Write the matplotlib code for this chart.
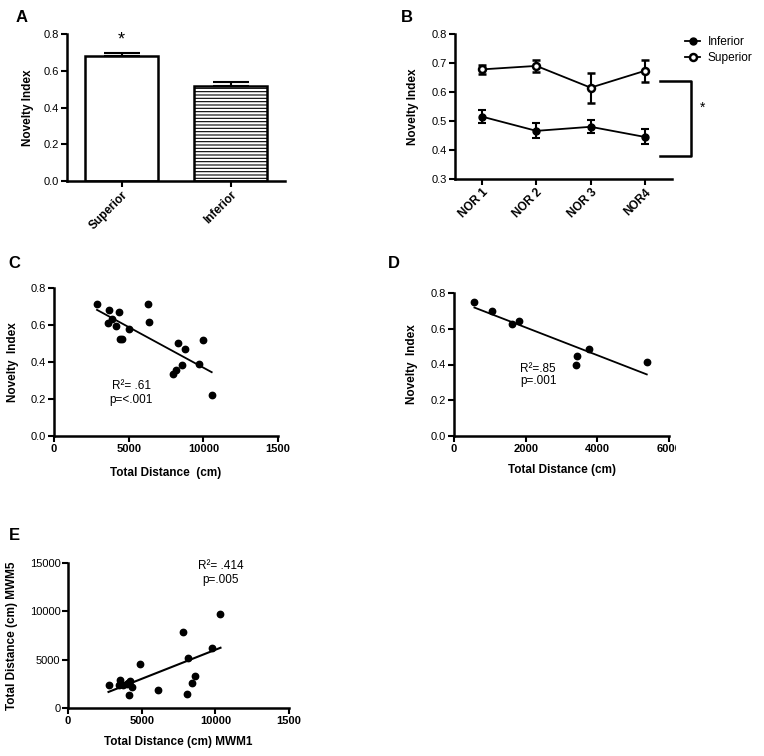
import numpy as np
import matplotlib
matplotlib.use("Agg")
import matplotlib.pyplot as plt
from matplotlib.transforms import Bbox, TransformedBbox

plt.rcParams['font.family'] = ['Liberation Sans', 'DejaVu Sans']
plt.rcParams['hatch.color'] = '#8a8a8a'
plt.rcParams['hatch.linewidth'] = 0.8

# ---- data ----
# A: bar chart
bar_groups = ['Superior', 'Inferior']
bar_means = [0.678, 0.516]
bar_err = [0.016, 0.023]

# B: NOR sessions
nor_labels = ['NOR 1', 'NOR 2', 'NOR 3', 'NOR4']
sup_means = [0.678, 0.690, 0.615, 0.673]
sup_err = [0.015, 0.022, 0.052, 0.038]
inf_means = [0.515, 0.466, 0.480, 0.445]
inf_err = [0.022, 0.026, 0.023, 0.026]

# C: novelty index vs total distance
c_dist = [2880, 3680, 3620, 3910, 4330, 4170, 4400, 4530, 5020, 6270,
          6380, 8300, 7970, 8190, 8570, 8790, 9960, 9690, 10560]
c_index = [0.713, 0.681, 0.610, 0.632, 0.670, 0.597, 0.523, 0.525, 0.577, 0.715,
           0.617, 0.505, 0.333, 0.355, 0.382, 0.471, 0.518, 0.389, 0.224]

# D: novelty index vs total distance
d_dist = [570, 1050, 1610, 1810, 3400, 3430, 3780, 5380]
d_index = [0.749, 0.701, 0.629, 0.641, 0.397, 0.448, 0.487, 0.416]

# E: MWM1 vs MWM5 distance
e_mwm1 = [2750, 3490, 3540, 3760, 3990, 4060, 4220, 4370, 4170, 4890,
          6130, 7780, 8120, 8050, 8390, 8610, 9760, 10350]
e_mwm5 = [2350, 2350, 2940, 2350, 2520, 2600, 2760, 2170, 1390, 4520,
          1830, 7830, 5210, 1490, 2630, 3280, 6250, 9690]

W, H = 764, 756
fig = plt.figure(figsize=(W / 100, H / 100), dpi=100)


def make_ax(l, t, r, b):
    ax = fig.add_axes([l / W, 1 - b / H, (r - l) / W, (b - t) / H])
    for s in ['top', 'right']:
        ax.spines[s].set_visible(False)
    for s in ['left', 'bottom']:
        ax.spines[s].set_linewidth(1.8)
    ax.tick_params(direction='out', length=4, width=1.5, labelsize=8, pad=1.5)
    ax.box = (l, t, r, b)
    return ax


def place_labels(ax, ylab_x, xlab_y=None):
    # centre of the label in pixels -> axes coords of its anchored edge
    l, t, r, b = ax.box
    ax.yaxis.set_label_coords((ylab_x + 6 - l) / (r - l), 0.5)
    if xlab_y is not None:
        ax.xaxis.set_label_coords(0.5, (b - xlab_y + 6) / (b - t))


def ax_text(ax, x, y, s, **kw):
    l, t, r, b = ax.box
    ax.text((x - l) / (r - l), (b - y) / (b - t), s, transform=ax.transAxes,
            fontsize=8.5, va='center', **kw)


bold = dict(fontsize=8.5, fontweight='bold')

# ---- A ----
axA = make_ax(67, 34, 285, 181)
xa = np.arange(len(bar_groups))
axA.bar(xa[0], bar_means[0], width=0.67, color='white', edgecolor='black', linewidth=1.8)
axA.bar(xa[1], bar_means[1], width=0.67, color='white', edgecolor='black', linewidth=1.8,
        hatch='-----')
axA.errorbar(xa, bar_means, yerr=[np.zeros(2), bar_err], fmt='none', ecolor='black',
             elinewidth=1.5, capsize=13, capthick=1.5)
axA.set_xlim(-0.5, 1.5)
axA.set_ylim(0, 0.8)
axA.set_yticks([0, 0.2, 0.4, 0.6, 0.8])
axA.set_yticklabels(['0.0', '0.2', '0.4', '0.6', '0.8'])
axA.set_xticks(xa)
axA.set_xticklabels(bar_groups, rotation=45, ha='right', rotation_mode='anchor', **bold)
axA.set_ylabel('Novelty Index', **bold)
place_labels(axA, 28)
axA.text(xa[0], 0.77, '*', ha='center', va='center', fontsize=13)

# ---- B ----
axB = make_ax(455, 34, 672, 179)
xb = np.arange(len(nor_labels))
axB.errorbar(xb, inf_means, yerr=inf_err, fmt='-o', color='black', ms=5, lw=1.3,
             elinewidth=1.5, capsize=3, capthick=1.5, label='Inferior')
axB.errorbar(xb, sup_means, yerr=sup_err, fmt='-o', color='black', mfc='white', mew=1.8,
             ms=5, lw=1.3, elinewidth=1.5, capsize=3, capthick=1.5, label='Superior')
axB.set_xlim(-0.5, 3.5)
axB.set_ylim(0.3, 0.8)
axB.set_yticks([0.3, 0.4, 0.5, 0.6, 0.7, 0.8])
axB.set_yticklabels(['0.3', '0.4', '0.5', '0.6', '0.7', '0.8'])
axB.set_xticks(xb)
axB.set_xticklabels(nor_labels, rotation=45, ha='right', rotation_mode='anchor', **bold)
axB.set_ylabel('Novelty Index', **bold)
place_labels(axB, 413)
handles, labels = axB.get_legend_handles_labels()
leg = axB.legend([h[0] for h in handles], labels, loc='upper left',
                 bbox_to_anchor=((674 - 455) / 217, 1.06), frameon=False, fontsize=8.6,
                 handlelength=1.3, handletextpad=0.6, labelspacing=0.35)
axB.plot([3.28, 3.85, 3.85, 3.28], [0.638, 0.638, 0.379, 0.379], color='black', lw=1.8,
         clip_on=False)
axB.text(4.07, 0.545, '*', ha='center', va='center', fontsize=10)

# ---- C ----
axC = make_ax(54, 288, 278, 436)
axC.plot(c_dist, c_index, 'o', color='black', ms=4.6)
kc = np.polyfit(c_dist, c_index, 1)
xc = np.array([min(c_dist), max(c_dist)])
axC.plot(xc, np.polyval(kc, xc), color='black', lw=1.3)
axC.set_xlim(0, 15000)
axC.set_ylim(0, 0.8)
axC.set_xticks([0, 5000, 10000, 15000])
axC.set_xticklabels(['0', '5000', '10000', '1500'], fontweight='bold')
axC.set_yticks([0, 0.2, 0.4, 0.6, 0.8])
axC.set_yticklabels(['0.0', '0.2', '0.4', '0.6', '0.8'])
axC.set_ylabel('Novelty  Index', **bold)
axC.set_xlabel('Total Distance  (cm)', **bold)
place_labels(axC, 13, 473)
ax_text(axC, 131, 386, 'R\u00b2= .61', ha='center')
ax_text(axC, 131, 400, 'p=<.001', ha='center')

# ---- D ----
axD = make_ax(454, 293, 669, 436)
axD.plot(d_dist, d_index, 'o', color='black', ms=4.6)
kd = np.polyfit(d_dist, d_index, 1)
xd = np.array([min(d_dist), max(d_dist)])
axD.plot(xd, np.polyval(kd, xd), color='black', lw=1.3)
axD.set_xlim(0, 6000)
axD.set_ylim(0, 0.8)
axD.set_xticks([0, 2000, 4000, 6000])
dl = axD.set_xticklabels(['0', '2000', '4000', '6000'], fontweight='bold')
dl[-1].set_clip_box(TransformedBbox(Bbox([[0, 0], [676 / W, 1]]), fig.transFigure))
dl[-1].set_clip_on(True)
axD.set_yticks([0, 0.2, 0.4, 0.6, 0.8])
axD.set_yticklabels(['0.0', '0.2', '0.4', '0.6', '0.8'])
axD.set_ylabel('Novelty  Index', **bold)
axD.set_xlabel('Total Distance (cm)', **bold)
place_labels(axD, 412, 470)
ax_text(axD, 520, 369, 'R\u00b2=.85', ha='left')
ax_text(axD, 520, 381, 'p=.001', ha='left')

# ---- E ----
axE = make_ax(68, 563, 289, 708)
axE.plot(e_mwm1, e_mwm5, 'o', color='black', ms=4.6)
ke = np.polyfit(e_mwm1, e_mwm5, 1)
xe = np.array([min(e_mwm1), max(e_mwm1)])
axE.plot(xe, np.polyval(ke, xe), color='black', lw=1.5)
axE.set_xlim(0, 15000)
axE.set_ylim(0, 15000)
axE.set_xticks([0, 5000, 10000, 15000])
axE.set_xticklabels(['0', '5000', '10000', '1500'], fontweight='bold')
axE.set_yticks([0, 5000, 10000, 15000])
axE.set_ylabel('Total Distance (cm) MWM5', **bold)
axE.set_xlabel('Total Distance (cm) MWM1', **bold)
place_labels(axE, 12, 742)
ax_text(axE, 221, 566, 'R\u00b2= .414', ha='center')
ax_text(axE, 221, 580, 'p=.005', ha='center')

# panel letters
for letter, (px, py) in {'A': (22, 17), 'B': (407, 17), 'C': (14, 263),
                         'D': (394, 263), 'E': (14, 535)}.items():
    fig.text(px / W, 1 - py / H, letter, fontsize=12, fontweight='bold',
             ha='center', va='center')

fig.savefig('out.png', dpi=100)
